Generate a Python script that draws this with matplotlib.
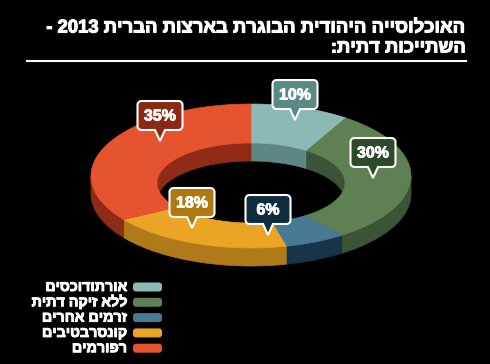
import re
import numpy as np
import matplotlib
matplotlib.use('Agg')
import matplotlib.pyplot as plt
import matplotlib.patheffects as pe
from matplotlib.patches import Polygon, FancyBboxPatch

plt.rcParams['font.family'] = ['Liberation Sans', 'DejaVu Sans']

# data
title_lines = ['האוכלוסייה היהודית הבוגרת בארצות הברית 2013 -', 'השתייכות דתית:']
groups = ['אורתודוכסים', 'ללא זיקה דתית', 'זרמים אחרים', 'קונסרבטיבים', 'רפורמים']
shares = [10, 30, 6, 18, 35]
labels = ['10%', '30%', '6%', '18%', '35%']

# styles
top_colors = ['#8bbab5', '#5f8052', '#497a93', '#eaa524', '#e5532f']
side_colors = ['#5c8784', '#3b5436', '#16344a', '#b07a18', '#8f2b16']
box_colors = ['#5a8986', '#2e4a2c', '#0f2c3e', '#b07810', '#8a2a14']
# callout tips (pixels)
tips = [(295, 120), (373, 178), (268, 235), (192, 228), (160, 141)]


def heb(s):
    # matplotlib has no bidi, flip to visual order and keep numbers readable
    r = s[::-1]
    return re.sub(r'\d+', lambda m: m.group(0)[::-1], r)


def thick(c, lw=0.7):
    return [pe.withStroke(linewidth=lw, foreground=c)]


cx, cy = 251, 176
ao, bo = 160, 72
ai, bi = 94, 40
icy = 183  # hole sits a bit lower (perspective)
depth = 18


def arc(a, b, t1, t2, n=80, dy=0, c_y=None):
    if c_y is None:
        c_y = cy
    th = np.radians(np.linspace(t1, t2, n))
    return np.column_stack([cx + a * np.cos(th), c_y - b * np.sin(th) + dy])


def overlap(t_hi, t_lo, ranges):
    out = []
    for hi, lo in ranges:
        h = min(t_hi, hi)
        l = max(t_lo, lo)
        if h > l:
            out.append((h, l))
    return out


fig = plt.figure(figsize=(4.9, 3.64), dpi=100, facecolor='black')
ax = fig.add_axes([0, 0, 1, 1])
ax.set_facecolor('black')
ax.set_xlim(0, 490)
ax.set_ylim(364, 0)
ax.axis('off')

edges = 90 - np.cumsum([0] + shares) / sum(shares) * 360

for i in range(len(shares)):
    t1, t2 = edges[i], edges[i + 1]
    # back inner wall seen through the hole
    for h, l in overlap(t1, t2, [(90, 0), (-180, -270)]):
        top = arc(ai, bi, h, l, c_y=icy)
        bot = arc(ai, bi, l, h, dy=depth, c_y=icy)
        ax.add_patch(Polygon(np.vstack([top, bot]), closed=True,
                             fc=side_colors[i], ec=side_colors[i], lw=0.5, zorder=1))
    # front outer wall
    for h, l in overlap(t1, t2, [(0, -180)]):
        top = arc(ao, bo, h, l)
        bot = arc(ao, bo, l, h, dy=depth)
        ax.add_patch(Polygon(np.vstack([top, bot]), closed=True,
                             fc=side_colors[i], ec=side_colors[i], lw=0.5, zorder=1))
    # top face
    outer = arc(ao, bo, t1, t2)
    inner = arc(ai, bi, t2, t1, c_y=icy)
    ax.add_patch(Polygon(np.vstack([outer, inner]), closed=True,
                         fc=top_colors[i], ec=top_colors[i], lw=0.5, zorder=2))

# callouts
w, h, ph, pw, r = 45, 29, 11, 5, 4
for (tx, ty), lab, col in zip(tips, labels, box_colors):
    yb = ty - ph
    yt = yb - h
    x0, x1 = tx - w / 2, tx + w / 2
    pts = [(tx, ty), (tx - pw, yb)]

    def corner(ccx, ccy, p1, p2):
        ph_ = np.radians(np.linspace(p1, p2, 10))
        return list(zip(ccx + r * np.cos(ph_), ccy + r * np.sin(ph_)))

    pts += corner(x0 + r, yb - r, 90, 180)
    pts += corner(x0 + r, yt + r, 180, 270)
    pts += corner(x1 - r, yt + r, 270, 360)
    pts += corner(x1 - r, yb - r, 0, 90)
    pts.append((tx + pw, yb))
    ax.add_patch(Polygon(pts, closed=True, fc=col, ec='white', lw=1.5, zorder=3))
    ax.text(tx, (yt + yb) / 2 + 0.5, lab, color='white', fontsize=11.5, fontweight='bold',
            ha='center', va='center', zorder=4, path_effects=thick('white', 0.6))

# legend
for i, g in enumerate(groups):
    y = 287 + i * 15.3
    ax.add_patch(FancyBboxPatch((133, y - 4.5), 29, 9, boxstyle='round,pad=0,rounding_size=3',
                                fc=top_colors[i], ec='none', zorder=2))
    ax.text(127, y, heb(g), color='white', fontsize=10.3, fontweight='bold',
            ha='right', va='center', path_effects=thick('white', 0.7))

# title
for j, line in enumerate(title_lines):
    ax.text(466, 28 + j * 20, heb(line), color='white', fontsize=13.3, fontweight='bold',
            ha='right', va='center', path_effects=thick('white', 0.8))
ax.plot([27, 466], [61, 61], color='white', lw=1.5)

fig.savefig('out.png', dpi=100, facecolor='black')
